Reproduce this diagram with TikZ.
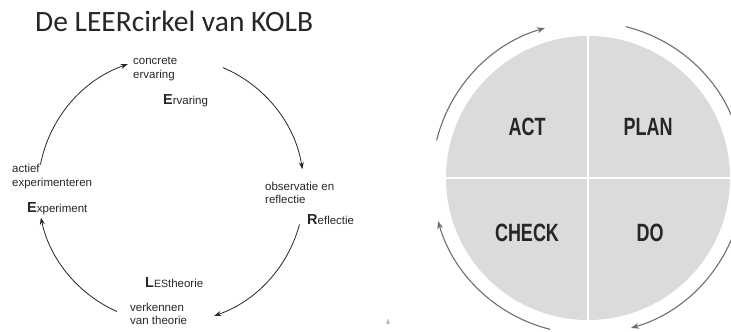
\documentclass[tikz,border=0pt]{standalone}
\usepackage{fontspec}
\setmainfont{Liberation Sans}
\newfontfamily\titlefont{Carlito}
\usetikzlibrary{arrows.meta,calc}
\definecolor{pdca}{HTML}{DCDADA}
\definecolor{pijl}{HTML}{6E6E6E}
\definecolor{inkt}{HTML}{262626}
\newcommand{\kolbtxt}{\fontsize{11.5}{13.5}\selectfont}
\newcommand{\kolbcap}[1]{{\fontsize{14.5}{14.5}\selectfont\bfseries #1}}
\newcommand{\pdcatxt}[1]{\scalebox{0.72}[1]{\fontsize{25}{25}\selectfont\bfseries #1}}

\begin{document}
\begin{tikzpicture}[x=1pt, y=1pt, every node/.style={inner sep=0pt, text=inkt}]
\useasboundingbox (0,0) rectangle (731,332);
\clip (0,0) rectangle (731,332);
% title
\node[anchor=base west, font=\titlefont\fontsize{29.5}{29.5}\selectfont] (titel) at (35,300) {De LEERcirkel van KOLB};
% Kolb: ring of four arrows, clockwise
\coordinate (kolb) at (171,142);
\foreach \a/\b in {169/109, 67/9, -15/-71, -114/-168}
  \draw[inkt, line width=0.8pt, -{Stealth[length=7pt, width=5pt]}] ($(kolb)+(\a:133)$) arc (\a:\b:133);
% labels at the four stations
\node[anchor=west, align=left, font=\kolbtxt] (conc) at (133,263) {concrete\\ervaring};
\node[anchor=base west, font=\kolbtxt] (erv) at (163,227.5) {\kolbcap{E}rvaring};
\node[anchor=west, align=left, font=\kolbtxt] (actief) at (12,155.5) {actief\\experimenteren};
\node[anchor=base west, font=\kolbtxt] (exp) at (27,119.5) {\kolbcap{E}xperiment};
\node[anchor=west, align=left, font=\kolbtxt] (obs) at (265,139) {observatie en\\reflectie};
\node[anchor=base west, font=\kolbtxt] (refl) at (307,107.5) {\kolbcap{R}eflectie};
\node[anchor=base west, font=\kolbtxt] (les) at (145,44.5) {\kolbcap{L}{\fontsize{10.5}{10.5}\selectfont ES}theorie};
\node[anchor=west, align=left, font=\kolbtxt] (verk) at (130,18) {verkennen\\van theorie};
% PDCA disc, split in four
\coordinate (pdca) at (588,154);
\fill[pdca] (pdca) circle (142);
\draw[white, line width=2pt] ($(pdca)+(0,-142)$) -- ($(pdca)+(0,142)$);
\draw[white, line width=2pt] ($(pdca)+(-142,0)$) -- ($(pdca)+(142,0)$);
\foreach \a/\b in {166/106, 76/16, -14/-74, -104/-164}
  \draw[pijl, line width=1.1pt, -{Stealth[length=8pt, width=6pt]}] ($(pdca)+(\a:156)$) arc (\a:\b:156);
\node (act) at (527,205) {\pdcatxt{ACT}};
\node (plan) at (648,205) {\pdcatxt{PLAN}};
\node (check) at (527,99) {\pdcatxt{CHECK}};
\node (do) at (650,99) {\pdcatxt{DO}};
\node[font=\fontsize{6}{6}\selectfont, text=black!55] (merk) at (388,10) {å};
\end{tikzpicture}
\end{document}
